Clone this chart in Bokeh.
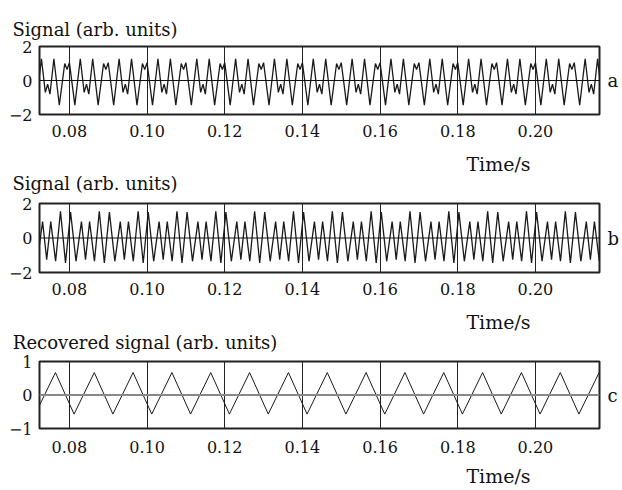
from bokeh.plotting import figure
from bokeh.models import Range1d, FixedTicker, Span, NumeralTickFormatter, LinearAxis
from bokeh.layouts import column
from bokeh.embed import file_html
from bokeh.resources import INLINE

# ---------------- data ----------------
x_ticks = [0.08, 0.10, 0.12, 0.14, 0.16, 0.18, 0.20]
x_start, x_end = 0.0723, 0.2165

# Panel a: the signal repeats every 0.01 s. One measured cycle:
# time offset (s) from the centre of the double peak, and value
a_cycle_offset = [-0.0006, 0.0000, 0.0006, 0.0020, 0.0034, 0.0044, 0.0050, 0.0056, 0.0066, 0.0080]
a_cycle_value = [1.00, 0.65, 1.05, -1.45, 1.28, -0.70, -0.22, -0.80, 1.28, -1.45]
a_cycle_centre = [0.0694, 0.0794, 0.0894, 0.0994, 0.1094, 0.1194, 0.1294, 0.1394,
                  0.1494, 0.1594, 0.1694, 0.1794, 0.1894, 0.1994, 0.2094, 0.2194]

# Panel b: one measured cycle, offset from the centre of the pair of tall peaks
b_cycle_offset = [-0.0013, 0.0000, 0.0013, 0.0027, 0.0041, 0.00515, 0.0062, 0.00745]
b_cycle_value = [1.55, -1.45, 1.50, -1.35, 0.95, -1.25, 0.95, -1.35]
b_cycle_centre = [0.0690, 0.0790, 0.0890, 0.0990, 0.1090, 0.1190, 0.1290, 0.1390,
                  0.1490, 0.1590, 0.1690, 0.1790, 0.1890, 0.1990, 0.2090, 0.2190]

# Panel c: recovered signal, troughs and peaks
c_trough_t = [0.0712, 0.0812, 0.0912, 0.1012, 0.1112, 0.1212, 0.1312, 0.1412,
              0.1512, 0.1612, 0.1712, 0.1812, 0.1912, 0.2012, 0.2112]
c_trough_v = [-0.57, -0.57, -0.57, -0.57, -0.57, -0.57, -0.57, -0.57,
              -0.57, -0.57, -0.57, -0.57, -0.57, -0.57, -0.57]
c_peak_t = [0.0764, 0.0864, 0.0964, 0.1064, 0.1164, 0.1264, 0.1364, 0.1464,
            0.1564, 0.1664, 0.1764, 0.1864, 0.1964, 0.2064, 0.2164]
c_peak_v = [0.67, 0.67, 0.67, 0.67, 0.67, 0.67, 0.67, 0.67,
            0.67, 0.67, 0.67, 0.67, 0.67, 0.67, 0.67]

titles = ["Signal (arb. units)", "Signal (arb. units)", "Recovered signal (arb. units)"]
letters = ["a", "b", "c"]
time_label = "Time/s"

a_t = [c + o for c in a_cycle_centre for o in a_cycle_offset]
a_v = [v for c in a_cycle_centre for v in a_cycle_value]
b_t = [c + o for c in b_cycle_centre for o in b_cycle_offset]
b_v = [v for c in b_cycle_centre for v in b_cycle_value]
c_pairs = sorted(list(zip(c_trough_t, c_trough_v)) + list(zip(c_peak_t, c_peak_v)))
c_t = [p[0] for p in c_pairs]
c_v = [p[1] for p in c_pairs]

FONT = "DejaVu Serif"
W = 622
FRAME_L, FRAME_R = 39, 602
INK = "#111111"


def px_to_t(px):
    # horizontal page position -> time, for placing text labels
    return round(x_start + (px - FRAME_L) / (FRAME_R - FRAME_L) * (x_end - x_start), 4)


def style_axis(ax, size, standoff):
    ax.axis_line_color = None
    ax.major_tick_line_color = None
    ax.minor_tick_line_color = None
    ax.major_tick_in = 0
    ax.major_tick_out = 0
    ax.major_label_text_font = FONT
    ax.major_label_text_font_size = size
    ax.major_label_text_color = INK
    ax.major_label_standoff = standoff


def text_axis(p, side, pos, text, size, standoff):
    ax = LinearAxis(ticker=FixedTicker(ticks=[pos]), major_label_overrides={pos: text})
    style_axis(ax, size, standoff)
    p.add_layout(ax, side)
    return ax


def make_panel(height, top, bottom, yr, yticks, ylabels, letter, tick_standoff):
    p = figure(width=W, height=height, x_range=Range1d(x_start, x_end),
               y_range=Range1d(yr[0], yr[1]), output_backend="svg", toolbar_location=None,
               min_border_left=FRAME_L, min_border_right=W - FRAME_R, min_border_top=top,
               min_border_bottom=bottom, background_fill_color="white",
               border_fill_color="white")
    p.outline_line_color = "#222222"
    p.outline_line_width = 2
    p.outline_line_alpha = 1

    p.xaxis.ticker = FixedTicker(ticks=x_ticks)
    p.xaxis.formatter = NumeralTickFormatter(format="0.00")
    p.yaxis.ticker = FixedTicker(ticks=yticks)
    p.yaxis.major_label_overrides = {t: l for t, l in zip(yticks, ylabels)}
    style_axis(p.xaxis[0], "16px", tick_standoff)
    style_axis(p.yaxis[0], "16px", 7)

    p.xgrid.grid_line_color = "#222222"
    p.xgrid.grid_line_width = 1
    p.xgrid.grid_line_alpha = 1
    p.ygrid.grid_line_color = None

    # panel letter on the right, level with the zero line
    text_axis(p, "right", 0, letter, "18px", 8)
    return p


TITLE_A_X = px_to_t(95)
TITLE_C_X = px_to_t(145.3)
TIME_X = px_to_t(500.5)

# ---- panel a : page rows 0..145
pa = make_panel(145, 46, 31, (-2, 2), [-2, 0, 2], ["\u22122", "0", "2"], letters[0], 10)
text_axis(pa, "above", TITLE_A_X, titles[0], "18px", 7)
pa.add_layout(Span(location=0, dimension="width", line_color=INK, line_width=1))
pa.line(a_t, a_v, line_color="#1a1a1a", line_width=1.3)

# ---- panel b : page rows 145..301 (its top border also holds panel a's time label)
pb = make_panel(156, 58, 29, (-2, 2), [-2, 0, 2], ["\u22122", "0", "2"], letters[1], 10)
text_axis(pb, "above", TITLE_A_X, titles[1], "18px", 10)
text_axis(pb, "above", TIME_X, time_label, "19px", -5)
pb.add_layout(Span(location=0, dimension="width", line_color=INK, line_width=1))
pb.line(b_t, b_v, line_color="#1a1a1a", line_width=1.3)

# ---- panel c : page rows 301..490 (its top border also holds panel b's time label)
pc = make_panel(189, 60, 62, (-1, 1), [-1, 0, 1], ["\u22121", "0", "1"], letters[2], 12)
text_axis(pc, "above", TITLE_C_X, titles[2], "18px", 9)
text_axis(pc, "above", TIME_X, time_label, "19px", -4)
text_axis(pc, "below", TIME_X, time_label, "19px", 9)
pc.add_layout(Span(location=0, dimension="width", line_color="#888888", line_width=2))
pc.line(c_t, c_v, line_color="#1a1a1a", line_width=1)

layout = column(pa, pb, pc, spacing=0)
open("out.html", "w").write(file_html(layout, INLINE))
